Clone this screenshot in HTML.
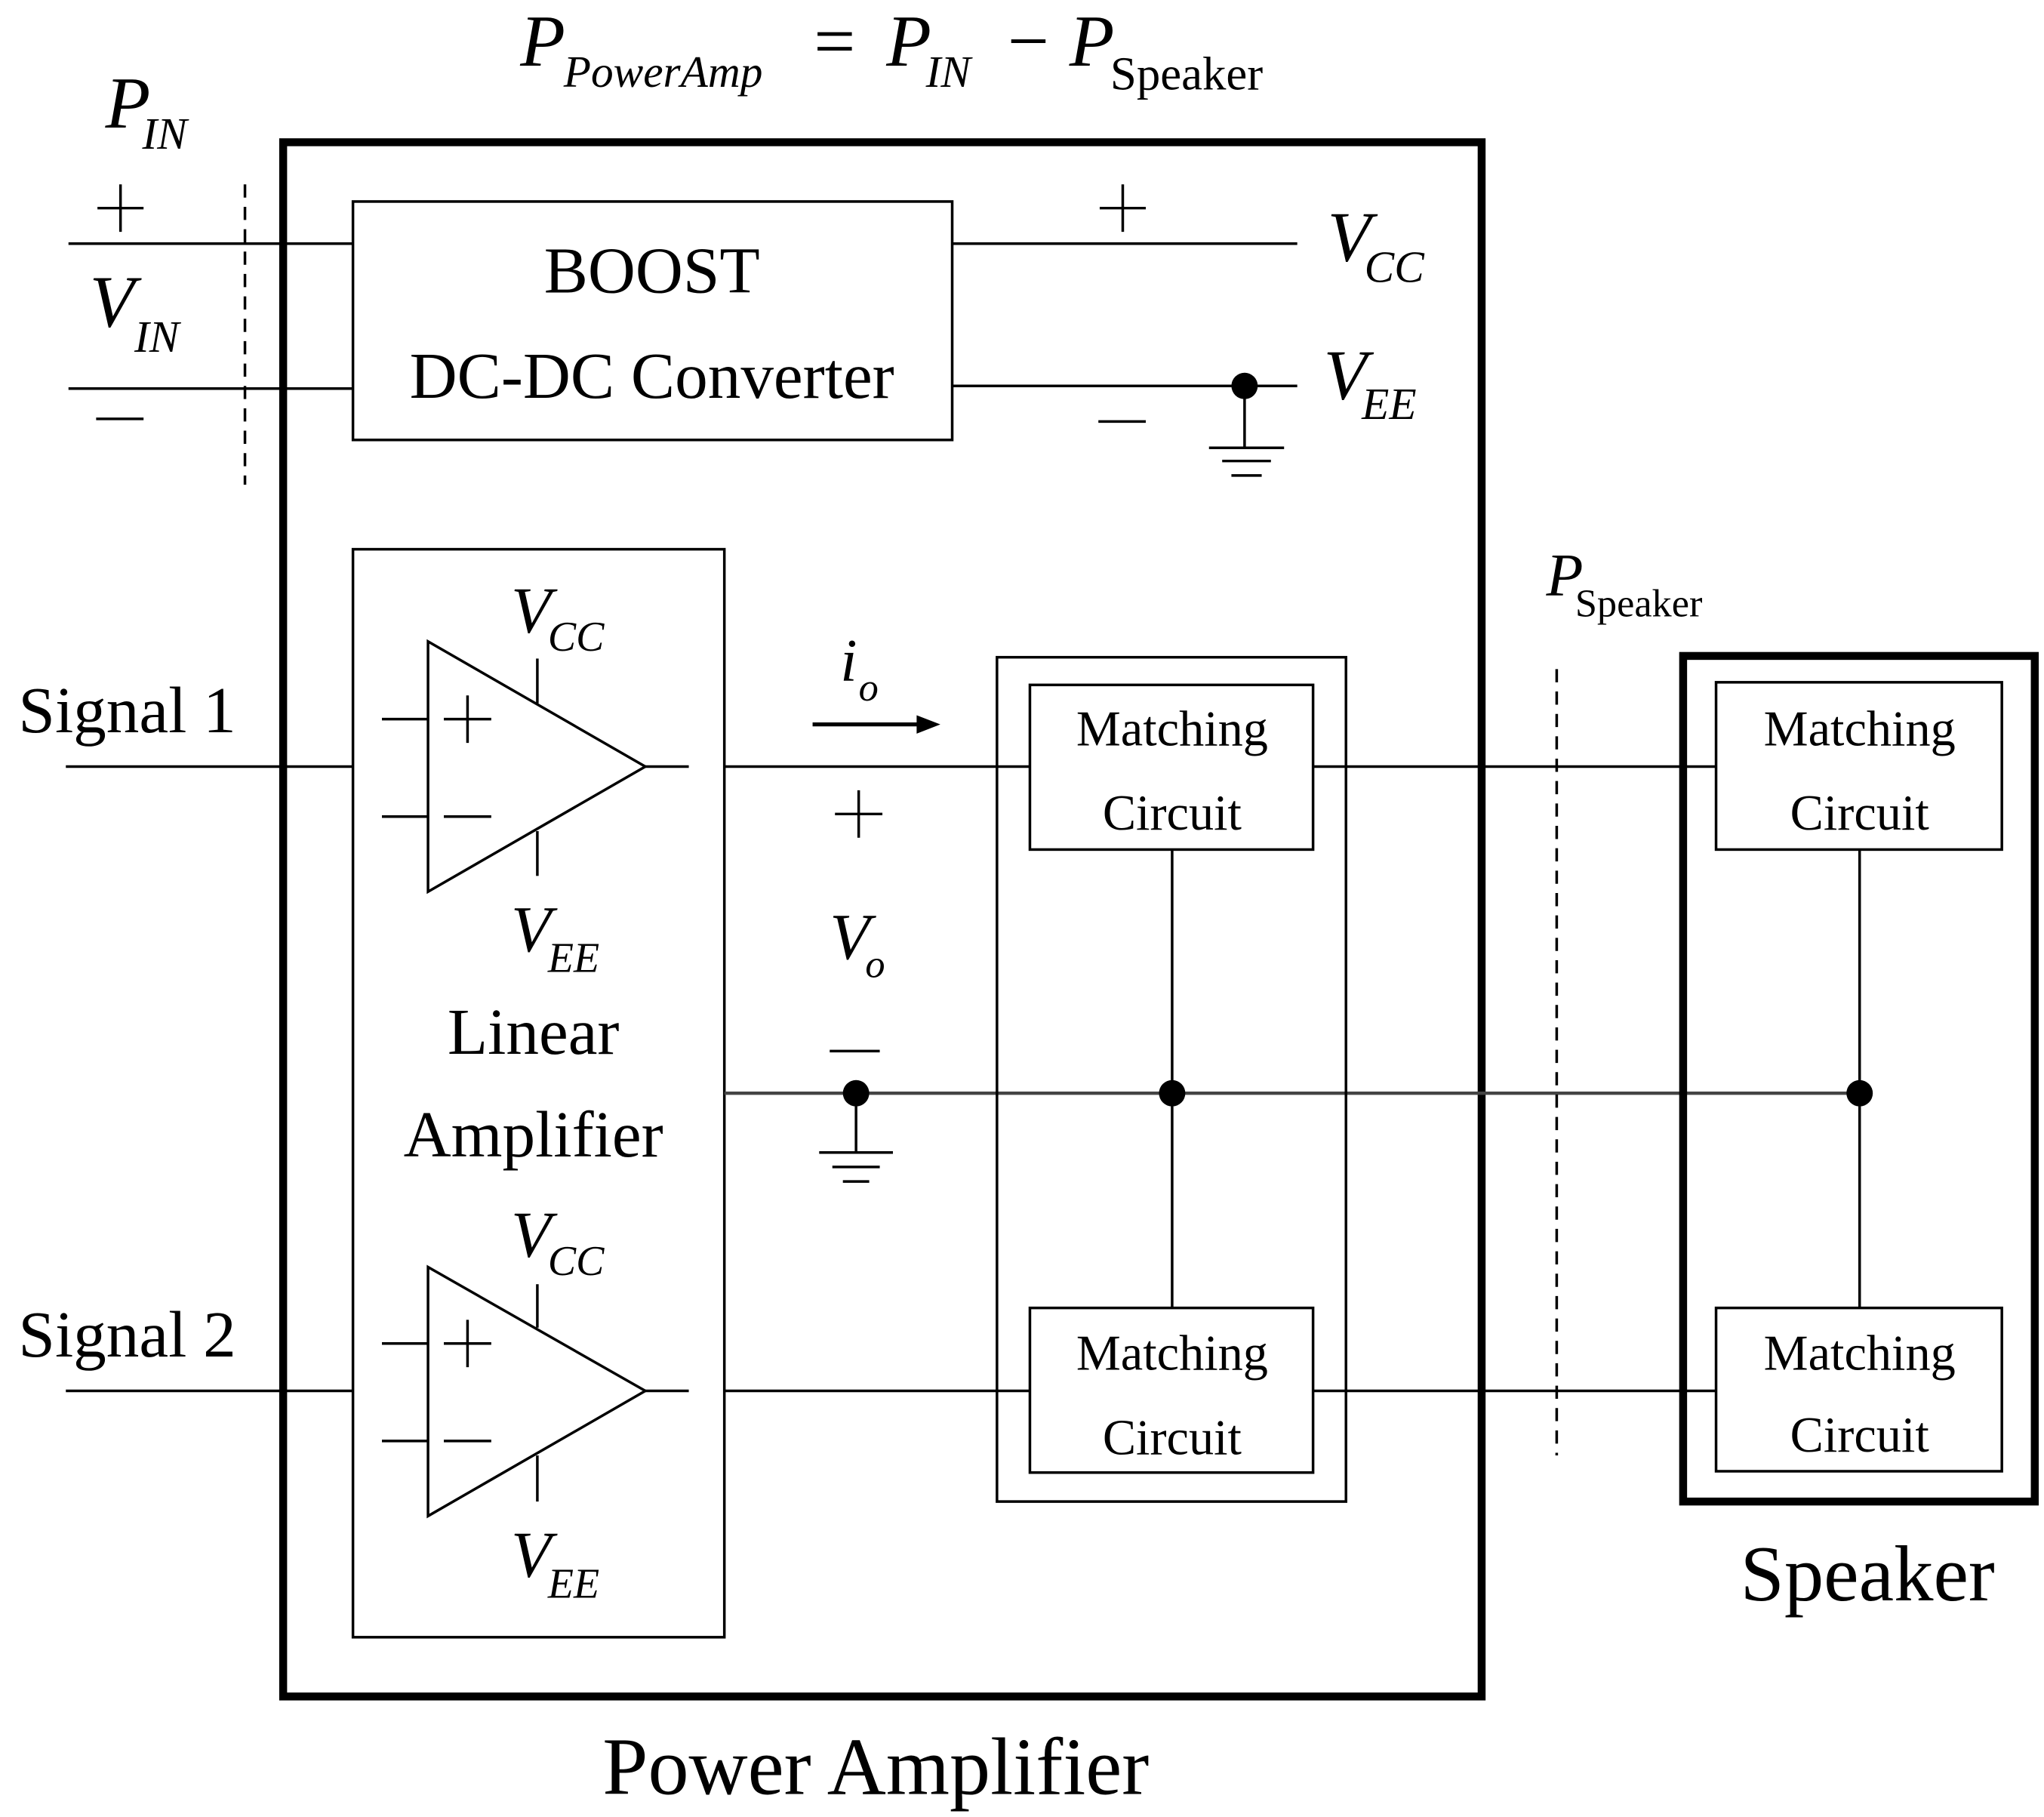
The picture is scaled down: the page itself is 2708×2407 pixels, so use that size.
<!DOCTYPE html>
<html><head><meta charset="utf-8"><style>
html,body{margin:0;padding:0;background:#fff;}
svg{display:block;}
text{font-family:"Liberation Serif",serif;fill:#000;}
.i{font-style:italic;}
</style></head><body>
<svg width="2708" height="2407" viewBox="0 0 1552 1379.5" preserveAspectRatio="none" xmlns="http://www.w3.org/2000/svg">
<g stroke="#000" stroke-width="2" fill="none">
<line x1="52" y1="185" x2="268" y2="185"/>
<line x1="52" y1="295" x2="268" y2="295"/>
<line x1="186" y1="140" x2="186" y2="368" stroke-dasharray="10,7"/>
<rect x="215" y="108" width="910" height="1180" stroke-width="6"/>
<rect x="268" y="153" width="455" height="181"/>
<line x1="723" y1="185" x2="985" y2="185"/>
<line x1="723" y1="293" x2="985" y2="293"/>
<line x1="945" y1="293" x2="945" y2="340"/>
<line x1="918" y1="340" x2="975" y2="340"/>
<line x1="928" y1="350" x2="965" y2="350"/>
<line x1="935" y1="361" x2="958" y2="361"/>
<rect x="268" y="417" width="282" height="826"/>
<polygon points="325,487 325,677 490,582"/>
<line x1="290" y1="546" x2="325" y2="546"/><line x1="290" y1="620" x2="325" y2="620"/>
<line x1="490" y1="582" x2="523" y2="582"/>
<line x1="408" y1="500" x2="408" y2="534"/><line x1="408" y1="631" x2="408" y2="665"/>
<polygon points="325,962 325,1151 490,1056"/>
<line x1="290" y1="1020" x2="325" y2="1020"/><line x1="290" y1="1094" x2="325" y2="1094"/>
<line x1="490" y1="1056" x2="523" y2="1056"/>
<line x1="408" y1="975" x2="408" y2="1008"/><line x1="408" y1="1105" x2="408" y2="1140"/>
<line x1="50" y1="582" x2="268" y2="582"/>
<line x1="50" y1="1056" x2="268" y2="1056"/>
<line x1="550" y1="582" x2="782" y2="582"/>
<line x1="550" y1="1056" x2="782" y2="1056"/>
<line x1="617" y1="550" x2="700" y2="550" stroke-width="3"/>
<line x1="550" y1="830" x2="1412" y2="830" stroke="#444" stroke-width="2.5"/>
<line x1="650" y1="830" x2="650" y2="875"/>
<line x1="622" y1="875" x2="678" y2="875"/>
<line x1="632" y1="886" x2="668" y2="886"/>
<line x1="640" y1="897" x2="660" y2="897"/>
<rect x="757" y="499" width="265" height="641"/>
<rect x="782" y="520" width="215" height="125"/>
<rect x="782" y="993" width="215" height="125"/>
<line x1="890" y1="645" x2="890" y2="993"/>
<line x1="997" y1="582" x2="1303" y2="582"/>
<line x1="997" y1="1056" x2="1303" y2="1056"/>
<line x1="1182" y1="508" x2="1182" y2="1105" stroke-dasharray="10,7"/>
<rect x="1278" y="498" width="267" height="642" stroke-width="6"/>
<rect x="1303" y="518" width="217" height="127"/>
<rect x="1303" y="993" width="217" height="124"/>
<line x1="1412" y1="645" x2="1412" y2="993"/>
<!-- plus / minus signs -->
<path d="M74 158H109M91.5 140V176"/>
<path d="M73 318H109"/>
<path d="M835 158H870M852.5 140V176"/>
<path d="M834 320H870"/>
<path d="M337 546H373M355 528V564"/>
<path d="M337 620H373"/>
<path d="M337 1020H373M355 1002V1038"/>
<path d="M337 1094H373"/>
<path d="M634 618H670M652 600V636"/>
<path d="M630 798H668"/>
</g>
<g fill="#000">
<polygon points="714,550 696,543 696,557"/>
<circle cx="945" cy="293" r="10"/>
<circle cx="650" cy="830" r="10"/>
<circle cx="890" cy="830" r="10"/>
<circle cx="1412" cy="830" r="10"/>
</g>
<text x="395" y="50" font-size="56" class="i">P</text>
<text x="428" y="66" font-size="34" class="i">PowerAmp</text>
<text x="618" y="50" font-size="56">=</text>
<text x="673" y="50" font-size="56" class="i">P</text>
<text x="703" y="66" font-size="34" class="i">IN</text>
<text x="765" y="50" font-size="56">−</text>
<text x="812" y="50" font-size="56" class="i">P</text>
<text x="843" y="68" font-size="36">Speaker</text>
<text x="80" y="97" font-size="56" class="i">P</text>
<text x="108" y="113" font-size="34" class="i">IN</text>
<text x="68" y="248" font-size="56" class="i">V</text>
<text x="102" y="267" font-size="34" class="i">IN</text>
<text x="495" y="222" font-size="50" text-anchor="middle">BOOST</text>
<text x="495" y="302" font-size="50" text-anchor="middle">DC-DC Converter</text>
<text x="1008" y="198" font-size="54" class="i">V</text>
<text x="1036" y="214" font-size="34" class="i">CC</text>
<text x="1005" y="303" font-size="54" class="i">V</text>
<text x="1034" y="318" font-size="34" class="i">EE</text>
<text x="14" y="556" font-size="50">Signal 1</text>
<text x="14" y="1030" font-size="50">Signal 2</text>
<text x="388" y="480" font-size="50" class="i">V</text>
<text x="416" y="494" font-size="32" class="i">CC</text>
<text x="388" y="722" font-size="50" class="i">V</text>
<text x="416" y="738" font-size="32" class="i">EE</text>
<text x="388" y="954" font-size="50" class="i">V</text>
<text x="416" y="968" font-size="32" class="i">CC</text>
<text x="388" y="1197" font-size="50" class="i">V</text>
<text x="416" y="1213" font-size="32" class="i">EE</text>
<text x="405" y="800" font-size="50" text-anchor="middle">Linear</text>
<text x="405" y="878" font-size="50" text-anchor="middle">Amplifier</text>
<text x="638" y="517" font-size="46" class="i">i</text>
<text x="652" y="532" font-size="30" class="i">o</text>
<text x="630" y="728" font-size="50" class="i">V</text>
<text x="657" y="742" font-size="30" class="i">o</text>
<text x="890" y="566" font-size="38" text-anchor="middle">Matching</text>
<text x="890" y="630" font-size="38" text-anchor="middle">Circuit</text>
<text x="890" y="1040" font-size="38" text-anchor="middle">Matching</text>
<text x="890" y="1104" font-size="38" text-anchor="middle">Circuit</text>
<text x="1412" y="566" font-size="38" text-anchor="middle">Matching</text>
<text x="1412" y="630" font-size="38" text-anchor="middle">Circuit</text>
<text x="1412" y="1040" font-size="38" text-anchor="middle">Matching</text>
<text x="1412" y="1102" font-size="38" text-anchor="middle">Circuit</text>
<text x="1174" y="452" font-size="46" class="i">P</text>
<text x="1196" y="468" font-size="30">Speaker</text>
<text x="1418" y="1215" font-size="60" text-anchor="middle">Speaker</text>
<text x="665" y="1362" font-size="62" text-anchor="middle">Power Amplifier</text>
</svg>
</body></html>
